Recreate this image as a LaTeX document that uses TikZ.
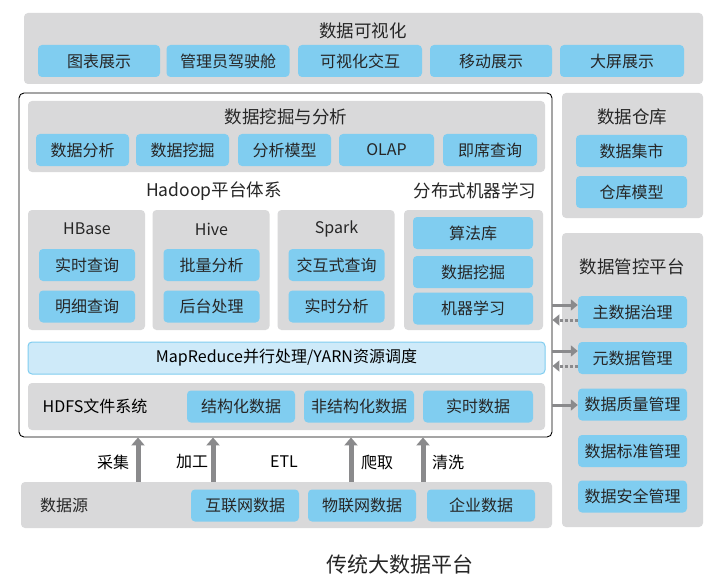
\documentclass[tikz,border=0pt]{standalone}
\usepackage{fontspec}
\setmainfont{Noto Sans CJK SC}
\usepackage{xcolor}
\usetikzlibrary{arrows.meta}
\definecolor{panelgray}{RGB}{217,217,218}
\definecolor{cellblue}{RGB}{128,205,240}
\definecolor{barblue}{RGB}{206,234,249}
\definecolor{arrowgray}{RGB}{138,138,140}

\tikzset{
  panel/.style={fill=panelgray,rounded corners=4pt,draw=none},
  cell/.style={fill=cellblue,rounded corners=4pt,minimum height=32pt,inner sep=0pt,font=\fontsize{16}{16}\selectfont,text=black!85},
  ptitle/.style={font=\fontsize{17.5}{18}\selectfont,text=black!85},
  uparrow/.style={arrowgray,line width=5pt,-{Triangle[length=8pt,width=13pt]}},
  outarrow/.style={arrowgray,line width=3pt,-{Triangle[length=7pt,width=11pt]}},
  backarrow/.style={arrowgray,line width=3pt,dotted,-{Triangle[length=7pt,width=11pt,sep=0pt]}},
}

\begin{document}
\begin{tikzpicture}[x=1pt,y=-1pt]
  \useasboundingbox[fill=white] (0,0) rectangle (719,588);

  % top: visualization
  \draw[panel] (24,13) rectangle (703,84);
  \node[ptitle] (vis) at (363,31) {数据可视化};
  \node[cell,minimum width=122pt] (v1) at (99,61) {图表展示};
  \node[cell,minimum width=123pt] (v2) at (228,61) {管理员驾驶舱};
  \node[cell,minimum width=124pt] (v3) at (360,61) {可视化交互};
  \node[cell,minimum width=122pt] (v4) at (491,61) {移动展示};
  \node[cell,minimum width=124pt] (v5) at (622,61) {大屏展示};

  % main platform frame
  \node[draw=black,line width=0.9pt,rounded corners=5pt,minimum width=533pt,minimum height=344pt,inner sep=0pt] (main) at (285.5,265) {};

  % mining and analysis
  \draw[panel] (28,101) rectangle (545,172);
  \node[ptitle] at (286,117) {数据挖掘与分析};
  \node[cell,minimum width=93pt] (m1) at (82.5,150) {数据分析};
  \node[cell,minimum width=93pt] (m2) at (182.5,150) {数据挖掘};
  \node[cell,minimum width=93pt] (m3) at (284.5,150) {分析模型};
  \node[cell,minimum width=95pt] (m4) at (386.5,150) {OLAP};
  \node[cell,minimum width=94pt] (m5) at (490,150) {即席查询};

  \node[ptitle] (hadoop) at (214,191) {Hadoop平台体系};
  \node[ptitle] (ml) at (475,191) {分布式机器学习};

  % hadoop components
  \foreach \cx/\nm/\ta/\tb/\px in {87/HBase/实时查询/明细查询/hb,211.5/Hive/批量分析/后台处理/hv,336.5/Spark/交互式查询/实时分析/sp}{
    \draw[panel] (\cx-59,210) rectangle (\cx+58,330);
    \node[ptitle,font=\fontsize{16}{16}\selectfont] (\px) at (\cx,229) {\nm};
    \node[cell,minimum width=96pt] (\px a) at (\cx,265) {\ta};
    \node[cell,minimum width=96pt] (\px b) at (\cx,306.5) {\tb};
  }

  % machine learning
  \draw[panel] (404,210) rectangle (543,330);
  \node[cell,minimum width=120pt] (ml1) at (473,233) {算法库};
  \node[cell,minimum width=120pt] (ml2) at (473,272) {数据挖掘};
  \node[cell,minimum width=120pt] (ml3) at (473,308.5) {机器学习};

  % mapreduce bar
  \node[fill=barblue,draw=cellblue,line width=1pt,rounded corners=4pt,minimum width=517pt,minimum height=32pt,inner sep=0pt,font=\fontsize{16}{16}\selectfont] (mr) at (286.5,358) {MapReduce并行处理/YARN资源调度};

  % hdfs
  \draw[panel] (28,383) rectangle (545,430);
  \node[font=\fontsize{16}{16}\selectfont] (hdfs) at (95,406.5) {HDFS文件系统};
  \node[cell,minimum width=108pt] (h1) at (241,406.5) {结构化数据};
  \node[cell,minimum width=110pt] (h2) at (359,406.5) {非结构化数据};
  \node[cell,minimum width=110pt] (h3) at (478,406.5) {实时数据};

  % data source
  \node[panel,minimum width=531pt,minimum height=46pt,inner sep=0pt] (src) at (286.5,505) {};
  \node[ptitle,font=\fontsize{16}{16}\selectfont] at (64,505) {数据源};
  \node[cell,minimum width=108pt] (s1) at (245,505.5) {互联网数据};
  \node[cell,minimum width=108pt] (s2) at (362,505.5) {物联网数据};
  \node[cell,minimum width=108pt] (s3) at (481,505.5) {企业数据};

  % upward flows
  \foreach \ax in {138,213,351,423}
    \draw[uparrow] (src.north -| \ax,0) -- (main.south -| \ax,0);
  \node[font=\fontsize{16}{16}\selectfont] at (113,462) {采集};
  \node[font=\fontsize{16}{16}\selectfont] at (192,462) {加工};
  \node[font=\fontsize{16}{16}\selectfont] at (284,462) {ETL};
  \node[font=\fontsize{16}{16}\selectfont] at (377,462) {爬取};
  \node[font=\fontsize{16}{16}\selectfont] at (448,462) {清洗};

  % warehouse
  \draw[panel] (562,93) rectangle (703,218);
  \node[ptitle] at (632,117) {数据仓库};
  \node[cell,minimum width=111pt] (w1) at (631.5,151) {数据集市};
  \node[cell,minimum width=111pt] (w2) at (631.5,192) {仓库模型};

  % governance
  \draw[panel] (562,233) rectangle (703,527);
  \node[ptitle] at (632,267) {数据管控平台};
  \node[cell,minimum width=109pt] (g1) at (632.5,312) {主数据治理};
  \node[cell,minimum width=109pt] (g2) at (632.5,358) {元数据管理};
  \node[cell,minimum width=109pt] (g3) at (632.5,404.5) {数据质量管理};
  \node[cell,minimum width=109pt] (g4) at (632.5,451) {数据标准管理};
  \node[cell,minimum width=109pt] (g5) at (632.5,496.5) {数据安全管理};

  \draw[outarrow] (main.east |- 0,305) -- (g1.west |- 0,305);
  \draw[backarrow] (g1.west |- 0,320) -- (main.east |- 0,320);
  \draw[outarrow] (main.east |- 0,351) -- (g2.west |- 0,351);
  \draw[backarrow] (g2.west |- 0,366) -- (main.east |- 0,366);
  \draw[outarrow] (main.east |- 0,405) -- (g3.west |- 0,405);

  \node[font=\fontsize{21}{21}\selectfont,text=black!85] (cap) at (400,565) {传统大数据平台};
\end{tikzpicture}
\end{document}
